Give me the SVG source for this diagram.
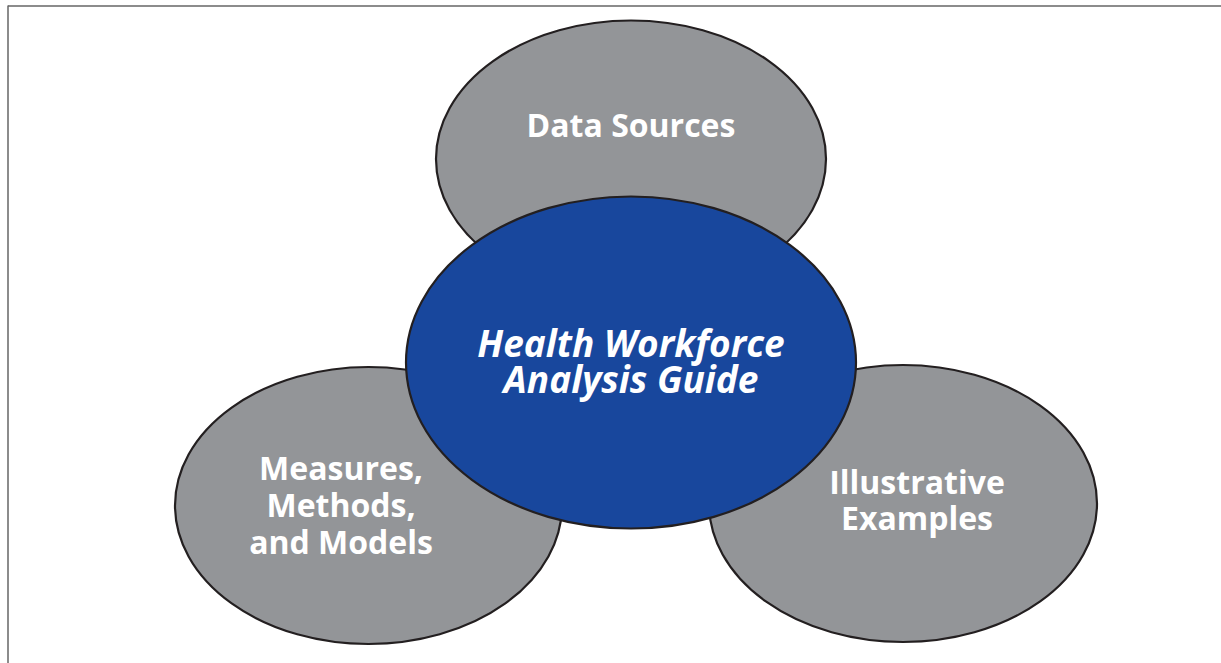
<svg xmlns="http://www.w3.org/2000/svg" width="1221" height="663" viewBox="0 0 1221 663">
<style>
.sat{fill:#939598;stroke:#231f20;stroke-width:2.2}
.core{fill:#18479d;stroke:#231f20;stroke-width:2.2}
.lbl{font-family:"Open Sans","Noto Sans",sans-serif;font-weight:700;font-size:32px;fill:#ffffff;text-anchor:middle}
.main{font-family:"Open Sans","Noto Sans",sans-serif;font-weight:700;font-style:italic;font-size:37px;fill:#ffffff;text-anchor:middle}
</style>
<rect width="1221" height="663" fill="#ffffff"/>
<g id="frame">
<line x1="8" y1="6" x2="1221" y2="6" stroke="#8c8c8c" stroke-width="1.8"/>
<line x1="8" y1="5.5" x2="8" y2="663" stroke="#666666" stroke-width="1.5"/>
</g>
<g id="connectors"></g>
<g id="data-sources">
<ellipse class="sat" cx="631" cy="159" rx="195" ry="138.5"/>
<text class="lbl" x="631" y="137">Data Sources</text>
</g>
<g id="measures">
<ellipse class="sat" cx="368.5" cy="505.5" rx="193.5" ry="138.5"/>
<text class="lbl" x="341" y="480">Measures,</text>
<text class="lbl" x="341" y="517">Methods,</text>
<text class="lbl" x="341" y="554">and Models</text>
</g>
<g id="examples">
<ellipse class="sat" cx="903" cy="503.5" rx="194" ry="138.5"/>
<text class="lbl" x="917" y="494">Illustrative</text>
<text class="lbl" x="917" y="530">Examples</text>
</g>
<g id="guide">
<ellipse class="core" cx="631" cy="362.5" rx="225" ry="166"/>
<text class="main" x="631" y="357">Health Workforce</text>
<text class="main" x="631" y="393">Analysis Guide</text>
</g>
</svg>
